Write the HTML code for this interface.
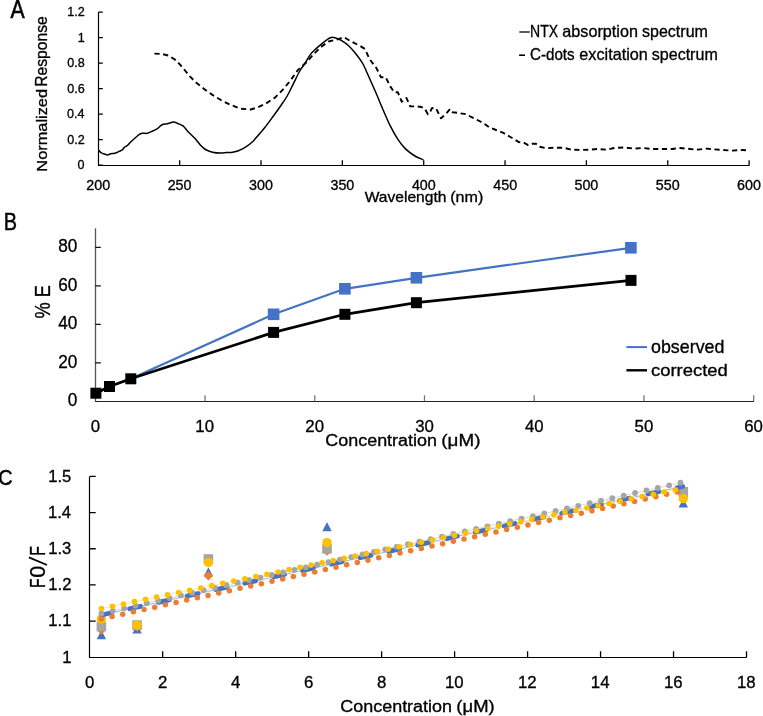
<!DOCTYPE html>
<html><head><meta charset="utf-8"><style>
html,body{margin:0;padding:0;background:#fff;}
svg{display:block;will-change:transform;}
text{font-family:"Liberation Sans",sans-serif;stroke:#000;stroke-width:0.32px;}
</style></head><body>
<svg width="763" height="716" viewBox="0 0 763 716">
<rect width="763" height="716" fill="#fff"/>
<text style="stroke-width:0.6px" transform="translate(10.46,18.20) scale(0.8038,1)" font-size="26.45" fill="#000">A</text>
<text style="stroke-width:0.45px" transform="translate(3.77,229.50) scale(0.8618,1)" font-size="23.11" fill="#000">B</text>
<text style="stroke-width:0.45px" transform="translate(-1.81,485.30) scale(0.8683,1)" font-size="22.91" fill="#000">C</text>
<path d="M98.5,12.20 V165.5 H749.6" fill="none" stroke="#000" stroke-width="1.2"/>
<path d="M98.3,165.20 h4.5 M98.3,139.70 h4.5 M98.3,114.20 h4.5 M98.3,88.70 h4.5 M98.3,63.20 h4.5 M98.3,37.70 h4.5 M98.3,12.20 h4.5 M179.65,165.2 v-5 M261.00,165.2 v-5 M342.35,165.2 v-5 M423.70,165.2 v-5 M505.05,165.2 v-5 M586.40,165.2 v-5 M667.75,165.2 v-5 M749.10,165.2 v-5 " fill="none" stroke="#000" stroke-width="1.3"/>
<text transform="translate(77.60,169.40) scale(0.9600,1)" font-size="13.10" fill="#000">0</text>
<text transform="translate(67.25,143.90) scale(0.9600,1)" font-size="13.10" fill="#000">0.2</text>
<text transform="translate(66.99,118.40) scale(0.9600,1)" font-size="13.10" fill="#000">0.4</text>
<text transform="translate(67.17,92.90) scale(0.9600,1)" font-size="13.10" fill="#000">0.6</text>
<text transform="translate(67.16,67.40) scale(0.9600,1)" font-size="13.10" fill="#000">0.8</text>
<text transform="translate(77.72,41.90) scale(0.9600,1)" font-size="13.10" fill="#000">1</text>
<text transform="translate(67.25,16.40) scale(0.9600,1)" font-size="13.10" fill="#000">1.2</text>
<text transform="translate(86.29,190.00) scale(1.0000,1)" font-size="14.30" fill="#000">200</text>
<text transform="translate(167.64,190.00) scale(1.0000,1)" font-size="14.30" fill="#000">250</text>
<text transform="translate(249.08,190.00) scale(1.0000,1)" font-size="14.30" fill="#000">300</text>
<text transform="translate(330.43,190.00) scale(1.0000,1)" font-size="14.30" fill="#000">350</text>
<text transform="translate(411.89,190.00) scale(1.0000,1)" font-size="14.30" fill="#000">400</text>
<text transform="translate(493.24,190.00) scale(1.0000,1)" font-size="14.30" fill="#000">450</text>
<text transform="translate(574.46,190.00) scale(1.0000,1)" font-size="14.30" fill="#000">500</text>
<text transform="translate(655.81,190.00) scale(1.0000,1)" font-size="14.30" fill="#000">550</text>
<text transform="translate(737.09,190.00) scale(1.0000,1)" font-size="14.30" fill="#000">600</text>
<text transform="translate(364.73,201.60) scale(1.0720,1)" font-size="14.54" fill="#000">Wavelength</text>
<text transform="translate(450.20,201.60) scale(1.1080,1)" font-size="14.54" fill="#000">(nm)</text>
<text transform="translate(47.00,171.64) rotate(-90) scale(1.0772,1)" font-size="15.18" fill="#000">Normalized</text>
<text transform="translate(47.00,86.68) rotate(-90) scale(0.9775,1)" font-size="15.99" fill="#000">Response</text>
<path d="M519.3,32.0 H529.8" stroke="#000" stroke-width="1.3"/>
<text transform="translate(530.05,36.80) scale(0.8614,1)" font-size="16.28" fill="#000">NTX</text>
<text transform="translate(562.31,36.80) scale(0.9963,1)" font-size="16.28" fill="#000">absorption</text>
<text transform="translate(642.05,36.80) scale(0.9844,1)" font-size="16.28" fill="#000">spectrum</text>
<path d="M519.1,55.2 H525" stroke="#000" stroke-width="1.6"/>
<text transform="translate(529.93,59.80) scale(0.9327,1)" font-size="16.28" fill="#000">C-dots</text>
<text transform="translate(579.31,59.80) scale(0.9982,1)" font-size="16.28" fill="#000">excitation</text>
<text transform="translate(651.75,59.80) scale(0.9875,1)" font-size="16.28" fill="#000">spectrum</text>
<path d="M98.70,150.40 C99.13,150.80 100.35,152.20 101.30,152.80 C102.25,153.40 103.35,153.65 104.40,154.00 C105.45,154.35 106.55,154.93 107.60,154.90 C108.65,154.87 109.48,154.08 110.70,153.80 C111.92,153.52 113.50,153.60 114.90,153.20 C116.30,152.80 117.87,151.97 119.10,151.40 C120.33,150.83 121.42,150.50 122.30,149.80 C123.18,149.10 123.53,147.93 124.40,147.20 C125.27,146.47 126.47,146.27 127.50,145.40 C128.53,144.53 129.38,143.18 130.60,142.00 C131.82,140.82 133.40,139.53 134.80,138.30 C136.20,137.07 137.77,135.43 139.00,134.60 C140.23,133.77 140.80,133.52 142.20,133.30 C143.60,133.08 145.65,133.68 147.40,133.30 C149.15,132.92 150.95,131.83 152.70,131.00 C154.45,130.17 156.33,129.35 157.90,128.30 C159.47,127.25 160.53,125.45 162.10,124.70 C163.67,123.95 165.40,124.23 167.30,123.80 C169.20,123.37 171.87,122.20 173.50,122.10 C175.13,122.00 175.52,122.57 177.10,123.20 C178.68,123.83 181.23,124.57 183.00,125.90 C184.77,127.23 185.73,129.13 187.70,131.20 C189.67,133.27 192.63,135.93 194.80,138.30 C196.97,140.67 198.93,143.53 200.70,145.40 C202.47,147.27 203.43,148.37 205.40,149.50 C207.37,150.63 209.95,151.60 212.50,152.20 C215.05,152.80 218.35,153.05 220.70,153.10 C223.05,153.15 224.83,152.60 226.60,152.50 C228.37,152.40 229.33,152.80 231.30,152.50 C233.27,152.20 236.03,151.58 238.40,150.70 C240.77,149.82 243.13,148.68 245.50,147.20 C247.87,145.72 251.02,143.17 252.60,141.80 C254.18,140.43 253.07,141.25 255.00,139.00 C256.93,136.75 261.13,132.13 264.20,128.30 C267.27,124.47 270.58,119.85 273.40,116.00 C276.22,112.15 278.80,108.53 281.10,105.20 C283.40,101.87 285.15,99.58 287.20,96.00 C289.25,92.42 291.35,87.78 293.40,83.70 C295.45,79.62 297.45,75.08 299.50,71.50 C301.55,67.92 303.90,65.02 305.70,62.20 C307.50,59.38 308.52,56.90 310.30,54.60 C312.08,52.30 314.35,50.32 316.40,48.40 C318.45,46.48 320.30,44.88 322.60,43.10 C324.90,41.32 328.02,38.57 330.20,37.70 C332.38,36.83 333.85,37.45 335.70,37.90 C337.55,38.35 339.10,39.05 341.30,40.40 C343.50,41.75 346.38,43.65 348.90,46.00 C351.42,48.35 354.05,51.50 356.40,54.50 C358.75,57.50 361.12,60.70 363.00,64.00 C364.88,67.30 365.65,69.75 367.70,74.30 C369.75,78.85 372.78,85.48 375.30,91.30 C377.82,97.12 380.28,103.38 382.80,109.20 C385.32,115.02 387.88,121.17 390.40,126.20 C392.92,131.23 395.38,135.62 397.90,139.40 C400.42,143.18 402.67,146.13 405.50,148.90 C408.33,151.67 411.92,154.18 414.90,156.00 C417.88,157.82 421.98,159.17 423.40,159.80" fill="none" stroke="#000" stroke-width="1.5" stroke-linejoin="round"/>
<path d="M154.40,53.60 L162.00,54.00 L168.90,55.70 L175.70,60.10 L182.50,67.30 L189.30,75.80 L196.10,82.60 L204.60,89.40 L213.20,95.40 L221.70,100.50 L230.20,104.70 L240.40,108.70 L250.60,109.50 L257.30,107.50 L265.70,103.70 L275.00,97.60 L282.60,89.90 L290.30,80.70 L298.00,69.90 L305.70,63.00 L313.30,54.60 L321.00,46.90 L328.70,41.50 L337.50,39.40 L344.20,37.20 L350.80,41.30 L360.20,46.00 L364.90,48.90 L369.60,59.20 L376.20,67.70 L380.90,77.20 L385.70,77.20 L390.40,86.60 L394.20,92.30 L397.90,92.30 L401.70,101.70 L406.40,97.90 L410.20,106.40 L416.80,106.40 L421.30,107.00 L424.60,108.30 L427.90,114.20 L430.50,111.00 L431.80,108.30 L435.10,107.70 L437.00,110.30 L441.00,118.20 L446.20,113.60 L450.10,109.00 L452.80,112.30 L458.00,112.90 L465.90,114.20 L475.00,118.80 L482.90,122.80 L489.50,127.40 L496.00,130.00 L503.90,133.20 L511.70,137.80 L518.90,142.10 L523.50,142.50 L528.10,145.10 L532.00,143.80 L536.00,143.80 L539.90,146.80 L546.50,148.30 L554.30,147.70 L563.50,147.70 L571.40,149.70 L580.50,149.90 L588.40,149.70 L597.60,149.00 L606.70,149.70 L614.00,148.00 L624.00,147.40 L634.10,148.60 L643.10,148.00 L652.10,149.00 L662.10,149.00 L672.20,149.00 L680.20,148.00 L690.20,149.00 L698.20,149.60 L706.30,148.60 L714.30,149.40 L722.30,150.00 L732.30,150.60 L742.30,150.00 L749.40,150.60" fill="none" stroke="#000" stroke-width="1.9" stroke-dasharray="5.2 3.6" stroke-linejoin="round"/>
<path d="M95.5,228.3 V401.3" fill="none" stroke="#555" stroke-width="1.3"/>
<path d="M95,401.5 H754" fill="none" stroke="#222" stroke-width="1.2"/>
<path d="M95.3,362.80 h5.5 M95.3,324.30 h5.5 M95.3,285.80 h5.5 M95.3,247.30 h5.5 " fill="none" stroke="#111" stroke-width="1.2"/>
<path d="M205.03,401.3 v-6 M314.76,401.3 v-6 M424.49,401.3 v-6 M534.22,401.3 v-6 M643.95,401.3 v-6 M753.68,401.3 v-6 " fill="none" stroke="#777" stroke-width="1.3"/>
<text transform="translate(67.73,406.20) scale(0.9750,1)" font-size="17.60" fill="#000">0</text>
<text transform="translate(58.18,367.70) scale(0.9750,1)" font-size="17.60" fill="#000">20</text>
<text transform="translate(58.18,329.20) scale(0.9750,1)" font-size="17.60" fill="#000">40</text>
<text transform="translate(58.18,290.70) scale(0.9750,1)" font-size="17.60" fill="#000">60</text>
<text transform="translate(58.18,252.20) scale(0.9750,1)" font-size="17.60" fill="#000">80</text>
<text transform="translate(90.63,432.00) scale(1.0000,1)" font-size="16.80" fill="#000">0</text>
<text transform="translate(195.37,432.00) scale(1.0000,1)" font-size="16.80" fill="#000">10</text>
<text transform="translate(305.32,432.00) scale(1.0000,1)" font-size="16.80" fill="#000">20</text>
<text transform="translate(415.15,432.00) scale(1.0000,1)" font-size="16.80" fill="#000">30</text>
<text transform="translate(525.01,432.00) scale(1.0000,1)" font-size="16.80" fill="#000">40</text>
<text transform="translate(634.60,432.00) scale(1.0000,1)" font-size="16.80" fill="#000">50</text>
<text transform="translate(744.24,432.00) scale(1.0000,1)" font-size="16.80" fill="#000">60</text>
<text transform="translate(325.29,446.00) scale(1.0807,1)" font-size="16.61" fill="#000">Concentration</text>
<text transform="translate(441.33,446.00) scale(1.1353,1)" font-size="16.61" fill="#000">(μM)</text>
<text transform="translate(50.00,318.45) rotate(-90) scale(0.8391,1)" font-size="21.66" fill="#000">% E</text>
<path d="M95.90,393.20 L109.50,386.50 L130.80,378.80 L273.60,314.30 L344.90,288.80 L416.40,277.80 L630.90,247.80" fill="none" stroke="#4472C4" stroke-width="2.2" stroke-linejoin="round"/>
<rect x="267.80" y="308.50" width="11.6" height="11.6" fill="#4472C4"/>
<rect x="339.10" y="283.00" width="11.6" height="11.6" fill="#4472C4"/>
<rect x="410.60" y="272.00" width="11.6" height="11.6" fill="#4472C4"/>
<rect x="625.10" y="242.00" width="11.6" height="11.6" fill="#4472C4"/>
<path d="M95.90,393.20 L109.50,386.50 L130.80,378.80 L273.60,332.40 L344.90,314.30 L416.40,302.70 L631.00,280.40" fill="none" stroke="#000" stroke-width="2.7" stroke-linejoin="round"/>
<rect x="90.40" y="387.70" width="11" height="11" fill="#000"/>
<rect x="104.00" y="381.00" width="11" height="11" fill="#000"/>
<rect x="125.30" y="373.30" width="11" height="11" fill="#000"/>
<rect x="268.10" y="326.90" width="11" height="11" fill="#000"/>
<rect x="339.40" y="308.80" width="11" height="11" fill="#000"/>
<rect x="410.90" y="297.20" width="11" height="11" fill="#000"/>
<rect x="625.50" y="274.90" width="11" height="11" fill="#000"/>
<path d="M626.4,347.1 H647" stroke="#4472C4" stroke-width="2"/>
<path d="M626.4,370.3 H647" stroke="#000" stroke-width="2.4"/>
<text transform="translate(650.95,352.90) scale(1.0036,1)" font-size="17.80" fill="#000">observed</text>
<text transform="translate(650.92,375.90) scale(1.0620,1)" font-size="17.39" fill="#000">corrected</text>
<path d="M89.5,476.4 V657.5 H746.7" fill="none" stroke="#000" stroke-width="1.2"/>
<path d="M89.7,621.12 h6 M89.7,584.94 h6 M89.7,548.76 h6 M89.7,512.58 h6 M89.7,476.40 h6 M162.68,657.3 v-6 M235.66,657.3 v-6 M308.64,657.3 v-6 M381.62,657.3 v-6 M454.60,657.3 v-6 M527.58,657.3 v-6 M600.56,657.3 v-6 M673.54,657.3 v-6 M746.52,657.3 v-6 " fill="none" stroke="#000" stroke-width="1.3"/>
<text transform="translate(62.18,662.50) scale(1.0000,1)" font-size="16.60" fill="#000">1</text>
<text transform="translate(48.33,626.32) scale(1.0000,1)" font-size="16.60" fill="#000">1.1</text>
<text transform="translate(48.36,590.14) scale(1.0000,1)" font-size="16.60" fill="#000">1.2</text>
<text transform="translate(48.25,553.96) scale(1.0000,1)" font-size="16.60" fill="#000">1.3</text>
<text transform="translate(48.01,517.78) scale(1.0000,1)" font-size="16.60" fill="#000">1.4</text>
<text transform="translate(48.22,481.60) scale(1.0000,1)" font-size="16.60" fill="#000">1.5</text>
<text transform="translate(85.03,688.00) scale(1.0000,1)" font-size="16.80" fill="#000">0</text>
<text transform="translate(158.01,688.00) scale(1.0000,1)" font-size="16.80" fill="#000">2</text>
<text transform="translate(231.04,688.00) scale(1.0000,1)" font-size="16.80" fill="#000">4</text>
<text transform="translate(303.91,688.00) scale(1.0000,1)" font-size="16.80" fill="#000">6</text>
<text transform="translate(376.95,688.00) scale(1.0000,1)" font-size="16.80" fill="#000">8</text>
<text transform="translate(444.94,688.00) scale(1.0000,1)" font-size="16.80" fill="#000">10</text>
<text transform="translate(518.02,688.00) scale(1.0000,1)" font-size="16.80" fill="#000">12</text>
<text transform="translate(590.82,688.00) scale(1.0000,1)" font-size="16.80" fill="#000">14</text>
<text transform="translate(663.93,688.00) scale(1.0000,1)" font-size="16.80" fill="#000">16</text>
<text transform="translate(736.90,688.00) scale(1.0000,1)" font-size="16.80" fill="#000">18</text>
<text transform="translate(340.29,712.40) scale(1.1501,1)" font-size="15.61" fill="#000">Concentration</text>
<text transform="translate(456.35,712.40) scale(1.1852,1)" font-size="15.61" fill="#000">(μM)</text>
<text transform="translate(45.00,587.88) rotate(-90) scale(0.7085,1)" font-size="21.95" fill="#000">F</text>
<text transform="translate(45.30,577.84) rotate(-90) scale(0.9779,1)" font-size="22.03" fill="#000">0</text>
<path d="M28.9,557.4 L47.0,565.0" stroke="#000" stroke-width="1.75"/>
<text transform="translate(45.00,555.69) rotate(-90) scale(0.7178,1)" font-size="21.95" fill="#000">F</text>
<path d="M101.40,629.99 L106.10,639.21 L96.70,639.21 Z" fill="#4472C4"/>
<path d="M101.40,625.25 L106.15,630.00 L101.40,634.75 L96.65,630.00 Z" fill="#ED7D31"/>
<rect x="96.60" y="621.70" width="9.6" height="9.6" fill="#A5A5A5"/>
<circle cx="101.40" cy="618.90" r="4.7" fill="#FFC000"/>
<path d="M137.10,624.39 L141.80,633.61 L132.40,633.61 Z" fill="#4472C4"/>
<path d="M137.10,622.25 L141.85,627.00 L137.10,631.75 L132.35,627.00 Z" fill="#ED7D31"/>
<rect x="132.30" y="620.30" width="9.6" height="9.6" fill="#A5A5A5"/>
<circle cx="137.10" cy="625.20" r="4.7" fill="#FFC000"/>
<path d="M208.40,567.29 L213.10,576.51 L203.70,576.51 Z" fill="#4472C4"/>
<path d="M208.40,571.05 L213.15,575.80 L208.40,580.55 L203.65,575.80 Z" fill="#ED7D31"/>
<rect x="203.60" y="554.20" width="9.6" height="9.6" fill="#A5A5A5"/>
<circle cx="208.40" cy="562.40" r="4.7" fill="#FFC000"/>
<path d="M327.00,522.09 L331.70,531.31 L322.30,531.31 Z" fill="#4472C4"/>
<path d="M327.00,546.25 L331.75,551.00 L327.00,555.75 L322.25,551.00 Z" fill="#ED7D31"/>
<rect x="322.20" y="544.00" width="9.6" height="9.6" fill="#A5A5A5"/>
<circle cx="327.00" cy="542.60" r="4.7" fill="#FFC000"/>
<path d="M683.30,498.39 L688.00,507.61 L678.60,507.61 Z" fill="#4472C4"/>
<path d="M683.30,492.25 L688.05,497.00 L683.30,501.75 L678.55,497.00 Z" fill="#ED7D31"/>
<rect x="678.50" y="487.00" width="9.6" height="9.6" fill="#A5A5A5"/>
<circle cx="683.30" cy="498.60" r="4.7" fill="#FFC000"/>
<line x1="101.4" y1="615.00" x2="682.8" y2="486.39" stroke="#9DB5E0" stroke-width="1.0"/>
<line x1="101.4" y1="608.50" x2="682.8" y2="488.15" stroke="#FFE8A8" stroke-width="1.0"/>
<line x1="101.4" y1="613.40" x2="682.8" y2="482.24" stroke="#D8D8D8" stroke-width="1.0"/>
<line x1="101.4" y1="615.00" x2="682.8" y2="486.39" stroke="#4472C4" stroke-width="4.7" stroke-dasharray="11.2 18.3" stroke-dashoffset="0.6" stroke-linecap="round"/>
<line x1="101.4" y1="618.90" x2="682.8" y2="490.76" stroke="#ED7D31" stroke-width="5.5" stroke-dasharray="0 10.92" stroke-dashoffset="0" stroke-linecap="round"/>
<line x1="101.4" y1="613.40" x2="682.8" y2="482.24" stroke="#A5A5A5" stroke-width="5.8" stroke-dasharray="0 11.64" stroke-dashoffset="0" stroke-linecap="round"/>
<line x1="101.4" y1="608.50" x2="682.8" y2="488.15" stroke="#FFC000" stroke-width="5.6" stroke-dasharray="0 11.27" stroke-dashoffset="0" stroke-linecap="round"/>
</svg></body></html>
